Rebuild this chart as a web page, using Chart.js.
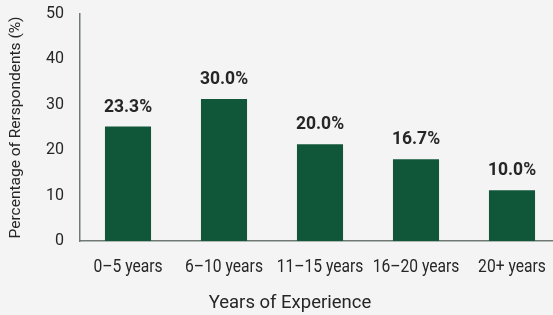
<!DOCTYPE html>
<html>
<head>
<meta charset="utf-8">
<script src="https://cdn.jsdelivr.net/npm/chart.js@4"></script>
<style>
  html, body { margin: 0; padding: 0; background: #f4f4f4; overflow: hidden; }
  #wrap { width: 560px; height: 315px; }
</style>
</head>
<body>
<div id="wrap"><canvas id="expChart"></canvas></div>
<script>
const categories = ['0\u20135 years', '6\u201310 years', '11\u201315 years', '16\u201320 years', '20+ years'];
// bar heights as drawn in the picture
const barHeights = [25.2, 31.3, 21.3, 18.0, 11.2];
// value labels printed above the bars
const barLabels = ['23.3%', '30.0%', '20.0%', '16.7%', '10.0%'];
const yTicks = [0, 10, 20, 30, 40, 50];

const textColor = '#262626';
const axisColor = '#6f7a74';
const barColor = '#10573a';

// value labels, condensed category labels and the x title
const extraText = {
    id: 'extraText',
    afterDraw(chart) {
        const ctx = chart.ctx;
        const meta = chart.getDatasetMeta(0);
        const xs = chart.scales.x;
        ctx.save();
        ctx.fillStyle = textColor;
        ctx.textAlign = 'center';
        ctx.textBaseline = 'alphabetic';

        ctx.font = 'bold 17.5px Roboto';
        meta.data.forEach((bar, i) => {
            ctx.fillText(barLabels[i], bar.x, bar.y - 15);
        });

        ctx.font = '18.5px Roboto';
        categories.forEach((c, i) => {
            ctx.save();
            ctx.translate(xs.getPixelForTick(i), xs.top + 31);
            ctx.scale(0.845, 1);
            ctx.fillText(c, 0, 0);
            ctx.restore();
        });

        ctx.font = '18.5px Roboto';
        ctx.fillText('Years of Experience', (xs.left + xs.right) / 2 - 30, xs.top + 67);
        ctx.restore();
    }
};

const ctx = document.getElementById('expChart').getContext('2d');
new Chart(ctx, {
    type: 'bar',
    data: {
        labels: categories,
        datasets: [{
            data: barHeights,
            backgroundColor: barColor,
            barPercentage: 0.48,
            categoryPercentage: 1
        }]
    },
    options: {
        responsive: true,
        maintainAspectRatio: false,
        animation: false,
        layout: { padding: 0 },
        plugins: {
            legend: { display: false },
            tooltip: { enabled: false }
        },
        scales: {
            x: {
                grid: { display: false, drawTicks: true, tickLength: 6, color: axisColor },
                border: { color: axisColor, width: 1.5 },
                ticks: { display: false },
                afterFit(scale) { scale.height = 74; }
            },
            y: {
                min: 0,
                max: 50,
                afterBuildTicks(scale) { scale.ticks = yTicks.map(v => ({ value: v })); },
                grid: { display: false, drawTicks: true, tickLength: 8, color: axisColor },
                border: { color: axisColor, width: 1.5 },
                ticks: { color: textColor, font: { family: 'Roboto', size: 16, lineHeight: 0.75 }, padding: 8 },
                title: {
                    display: true,
                    text: 'Percentage of Rerspondents (%)',
                    color: textColor,
                    font: { family: 'Roboto', size: 15.5 },
                    padding: { top: 7, bottom: 0 }
                },
                afterFit(scale) { scale.width = 80; }
            }
        }
    },
    plugins: [extraText]
});
</script>
</body>
</html>
